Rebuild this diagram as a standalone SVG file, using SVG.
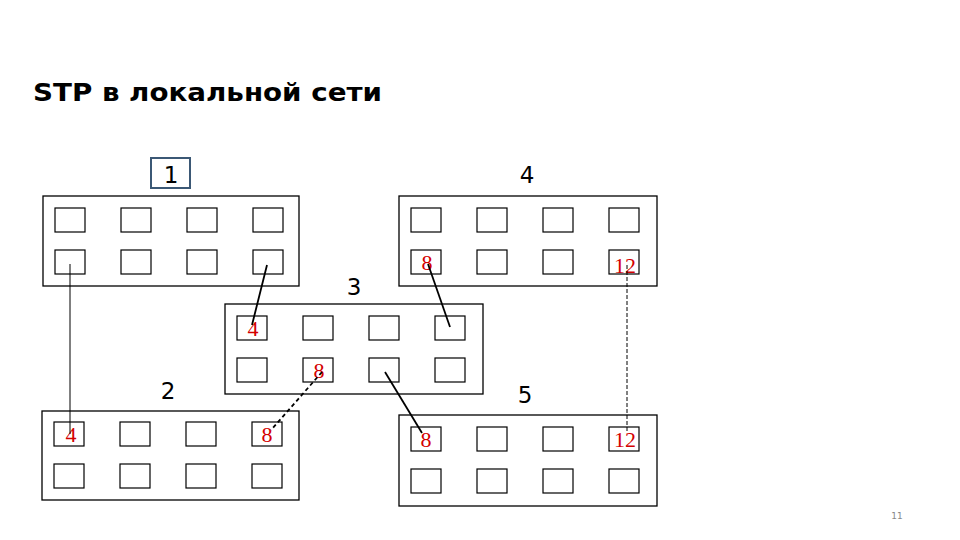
<svg xmlns="http://www.w3.org/2000/svg" width="960" height="540" viewBox="0 0 960 540">
<style>
.sw{fill:#fff;stroke:#000;stroke-width:1.3}
.pt{fill:#fff;stroke:#000;stroke-width:1.2}
.lbl{font-family:"DejaVu Sans",Verdana,sans-serif;font-size:23px;fill:#000;text-anchor:middle}
.red{font-family:"Liberation Serif","Times New Roman",serif;font-size:22px;fill:#d40000;text-anchor:middle}
.ln{stroke:#000;fill:none}
</style>
<rect width="960" height="540" fill="#fff"/>
<text x="33" y="101" font-family="DejaVu Sans,Verdana,sans-serif" font-size="25" font-weight="bold" fill="#000" textLength="349" lengthAdjust="spacingAndGlyphs">STP в локальной сети</text>

<g id="switch1">
<rect x="151" y="158" width="39" height="30" fill="#fff" stroke="#3b5875" stroke-width="2"/>
<text class="lbl" x="171" y="183">1</text>
<rect class="sw" x="43" y="196" width="256" height="90"/>
<rect class="pt" x="55" y="208" width="30" height="24"/><rect class="pt" x="121" y="208" width="30" height="24"/><rect class="pt" x="187" y="208" width="30" height="24"/><rect class="pt" x="253" y="208" width="30" height="24"/>
<rect class="pt" x="55" y="250" width="30" height="24"/><rect class="pt" x="121" y="250" width="30" height="24"/><rect class="pt" x="187" y="250" width="30" height="24"/><rect class="pt" x="253" y="250" width="30" height="24"/>
</g>

<g id="switch4">
<text class="lbl" x="527" y="183">4</text>
<rect class="sw" x="399" y="196" width="258" height="90"/>
<rect class="pt" x="411" y="208" width="30" height="24"/><rect class="pt" x="477" y="208" width="30" height="24"/><rect class="pt" x="543" y="208" width="30" height="24"/><rect class="pt" x="609" y="208" width="30" height="24"/>
<rect class="pt" x="411" y="250" width="30" height="24"/><rect class="pt" x="477" y="250" width="30" height="24"/><rect class="pt" x="543" y="250" width="30" height="24"/><rect class="pt" x="609" y="250" width="30" height="24"/>
<text class="red" x="427" y="270">8</text>
<text class="red" x="625" y="273">12</text>
</g>

<g id="switch3">
<text class="lbl" x="354" y="295">3</text>
<rect class="sw" x="225" y="304" width="258" height="90"/>
<rect class="pt" x="237" y="316" width="30" height="24"/><rect class="pt" x="303" y="316" width="30" height="24"/><rect class="pt" x="369" y="316" width="30" height="24"/><rect class="pt" x="435" y="316" width="30" height="24"/>
<rect class="pt" x="237" y="358" width="30" height="24"/><rect class="pt" x="303" y="358" width="30" height="24"/><rect class="pt" x="369" y="358" width="30" height="24"/><rect class="pt" x="435" y="358" width="30" height="24"/>
<text class="red" x="253" y="336">4</text>
<text class="red" x="319" y="378">8</text>
</g>

<g id="switch2">
<text class="lbl" x="168" y="399">2</text>
<rect class="sw" x="42" y="411" width="257" height="89"/>
<rect class="pt" x="54" y="422" width="30" height="24"/><rect class="pt" x="120" y="422" width="30" height="24"/><rect class="pt" x="186" y="422" width="30" height="24"/><rect class="pt" x="252" y="422" width="30" height="24"/>
<rect class="pt" x="54" y="464" width="30" height="24"/><rect class="pt" x="120" y="464" width="30" height="24"/><rect class="pt" x="186" y="464" width="30" height="24"/><rect class="pt" x="252" y="464" width="30" height="24"/>
<text class="red" x="71" y="442">4</text>
<text class="red" x="267" y="442">8</text>
</g>

<g id="switch5">
<text class="lbl" x="525" y="403">5</text>
<rect class="sw" x="399" y="415" width="258" height="91"/>
<rect class="pt" x="411" y="427" width="30" height="24"/><rect class="pt" x="477" y="427" width="30" height="24"/><rect class="pt" x="543" y="427" width="30" height="24"/><rect class="pt" x="609" y="427" width="30" height="24"/>
<rect class="pt" x="411" y="469" width="30" height="24"/><rect class="pt" x="477" y="469" width="30" height="24"/><rect class="pt" x="543" y="469" width="30" height="24"/><rect class="pt" x="609" y="469" width="30" height="24"/>
<text class="red" x="426" y="447">8</text>
<text class="red" x="625" y="447">12</text>
</g>

<g id="connectors">
<line class="ln" x1="70" y1="264" x2="70" y2="434" stroke-width="1"/>
<line class="ln" x1="267" y1="265" x2="252" y2="325" stroke-width="1.8"/>
<line class="ln" x1="428" y1="264" x2="450" y2="327" stroke-width="1.8"/>
<line class="ln" x1="385" y1="372" x2="422" y2="433" stroke-width="1.8"/>
<line class="ln" x1="322" y1="372" x2="271" y2="430" stroke-width="1.8" stroke-dasharray="4,3"/>
<line class="ln" x1="627" y1="265" x2="627" y2="433" stroke-width="1" stroke-dasharray="4,2"/>
</g>

<text x="897" y="519" font-family="DejaVu Sans,Verdana,sans-serif" font-size="9" fill="#888" text-anchor="middle">11</text>
</svg>
